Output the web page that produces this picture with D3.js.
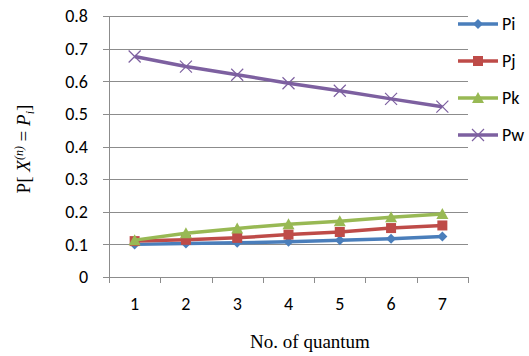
<!DOCTYPE html>
<html>
<head>
<meta charset="utf-8">
<script src="https://cdn.jsdelivr.net/npm/d3@7"></script>
<style>
  body { margin: 0; background: #fff; }
  svg text { fill: #000; }
  .tick-label { font-family: Carlito, Lato, "Liberation Sans", sans-serif; font-size: 18px; }
  .axis-title { font-family: "Liberation Serif", "DejaVu Serif", serif; font-size: 19px; }
</style>
</head>
<body>
<div id="chart"></div>
<script>
// data
let quanta = [1, 2, 3, 4, 5, 6, 7];
let yTicks = [0, 0.1, 0.2, 0.3, 0.4, 0.5, 0.6, 0.7, 0.8];
let seriesNames = ["Pi", "Pj", "Pk", "Pw"];
let pi = [0.100, 0.103, 0.105, 0.108, 0.113, 0.117, 0.124];
let pj = [0.110, 0.114, 0.120, 0.130, 0.138, 0.150, 0.158];
let pk = [0.113, 0.134, 0.149, 0.162, 0.171, 0.183, 0.193];
let pw = [0.676, 0.645, 0.620, 0.594, 0.571, 0.546, 0.522];

let colours = {
    "Pi": "#4A7EBB",
    "Pj": "#BE4B48",
    "Pk": "#98B954",
    "Pw": "#7D60A0"
};

let series = [
    {name: "Pi", values: pi, marker: "diamond"},
    {name: "Pj", values: pj, marker: "square"},
    {name: "Pk", values: pk, marker: "triangle"},
    {name: "Pw", values: pw, marker: "cross"}
];

const width = 529, height = 356;
const margin = {top: 16, right: 61, bottom: 79, left: 109};

let svg = d3.select("#chart").append("svg")
    .attr("width", width)
    .attr("height", height);

let x = d3.scaleBand()
    .domain(quanta)
    .range([margin.left, width - margin.right]);

let y = d3.scaleLinear()
    .domain([0, 0.8])
    .range([height - margin.bottom, margin.top]);

// gridlines
svg.append("g")
    .selectAll("line")
    .data(yTicks)
    .enter()
    .append("line")
    .attr("x1", margin.left - 6)
    .attr("x2", width - margin.right)
    .attr("y1", d => Math.round(y(d)) + 0.5)
    .attr("y2", d => Math.round(y(d)) + 0.5)
    .attr("stroke", "#8c8c8c")
    .attr("stroke-width", 1);

// y axis line
svg.append("line")
    .attr("x1", margin.left + 0.5)
    .attr("x2", margin.left + 0.5)
    .attr("y1", y(0.8))
    .attr("y2", y(0) + 6)
    .attr("stroke", "#8c8c8c");

// x tick marks at category boundaries
let bounds = quanta.map(d => x(d)).concat([x(quanta[quanta.length - 1]) + x.bandwidth()]);
svg.append("g")
    .selectAll("line")
    .data(bounds)
    .enter()
    .append("line")
    .attr("x1", d => Math.round(d) + 0.5)
    .attr("x2", d => Math.round(d) + 0.5)
    .attr("y1", Math.round(y(0)))
    .attr("y2", Math.round(y(0)) + 6)
    .attr("stroke", "#8c8c8c");

// y tick labels
svg.append("g")
    .selectAll("text")
    .data(yTicks)
    .enter()
    .append("text")
    .attr("class", "tick-label")
    .attr("x", margin.left - 21)
    .attr("y", d => y(d))
    .attr("dy", "0.35em")
    .attr("text-anchor", "end")
    .text(d => d === 0 ? "0" : d3.format(".1f")(d));

// x tick labels
svg.append("g")
    .selectAll("text")
    .data(quanta)
    .enter()
    .append("text")
    .attr("class", "tick-label")
    .attr("x", d => x(d) + x.bandwidth() / 2)
    .attr("y", y(0) + 33)
    .attr("text-anchor", "middle")
    .text(d => d);

// axis titles
svg.append("text")
    .attr("class", "axis-title")
    .attr("x", 310)
    .attr("y", 348)
    .attr("text-anchor", "middle")
    .text("No. of quantum");

let yt = svg.append("text")
    .attr("class", "axis-title")
    .attr("transform", "translate(30, 149) rotate(-90)")
    .attr("text-anchor", "middle");
yt.append("tspan").text("P[ ");
yt.append("tspan").attr("font-style", "italic").text("X");
yt.append("tspan").attr("font-style", "italic").attr("font-size", "12px").attr("dy", "-7").text("(n)");
yt.append("tspan").attr("dy", "7").text(" = ");
yt.append("tspan").attr("font-style", "italic").text("P");
yt.append("tspan").attr("font-style", "italic").attr("font-size", "12px").attr("dy", "4").text("i");
yt.append("tspan").attr("dy", "-4").text("]");

function drawMarker(g, type, colour) {
    if (type === "diamond") {
        g.append("path").attr("d", "M0,-5L5,0L0,5L-5,0Z").attr("fill", colour);
    } else if (type === "square") {
        g.append("rect").attr("x", -5).attr("y", -5).attr("width", 10).attr("height", 10).attr("fill", colour);
    } else if (type === "triangle") {
        g.append("path").attr("d", "M0,-6L6,5L-6,5Z").attr("fill", colour);
    } else {
        g.append("path").attr("d", "M-6,-6L6,6M-6,6L6,-6")
            .attr("stroke", colour).attr("stroke-width", 1.2).attr("fill", "none");
    }
}

let line = d3.line()
    .x((d, i) => x(quanta[i]) + x.bandwidth() / 2)
    .y(d => y(d));

series.forEach(s => {
    let g = svg.append("g").attr("class", "series");
    g.append("path")
        .attr("d", line(s.values))
        .attr("fill", "none")
        .attr("stroke", colours[s.name])
        .attr("stroke-width", 3.5)
        .attr("stroke-linejoin", "round");
    s.values.forEach((v, i) => {
        let m = g.append("g")
            .attr("transform", `translate(${x(quanta[i]) + x.bandwidth() / 2}, ${y(v)})`);
        drawMarker(m, s.marker, colours[s.name]);
    });
});

// legend
let legend = svg.append("g").attr("class", "legend");
series.forEach((s, i) => {
    let ly = 24 + i * 37;
    legend.append("line")
        .attr("x1", 458).attr("x2", 498)
        .attr("y1", ly).attr("y2", ly)
        .attr("stroke", colours[s.name])
        .attr("stroke-width", 3.5);
    let m = legend.append("g").attr("transform", `translate(478, ${ly})`);
    drawMarker(m, s.marker, colours[s.name]);
    legend.append("text")
        .attr("class", "tick-label")
        .attr("x", 502)
        .attr("y", ly)
        .attr("dy", "0.35em")
        .text(s.name);
});
</script>
</body>
</html>
